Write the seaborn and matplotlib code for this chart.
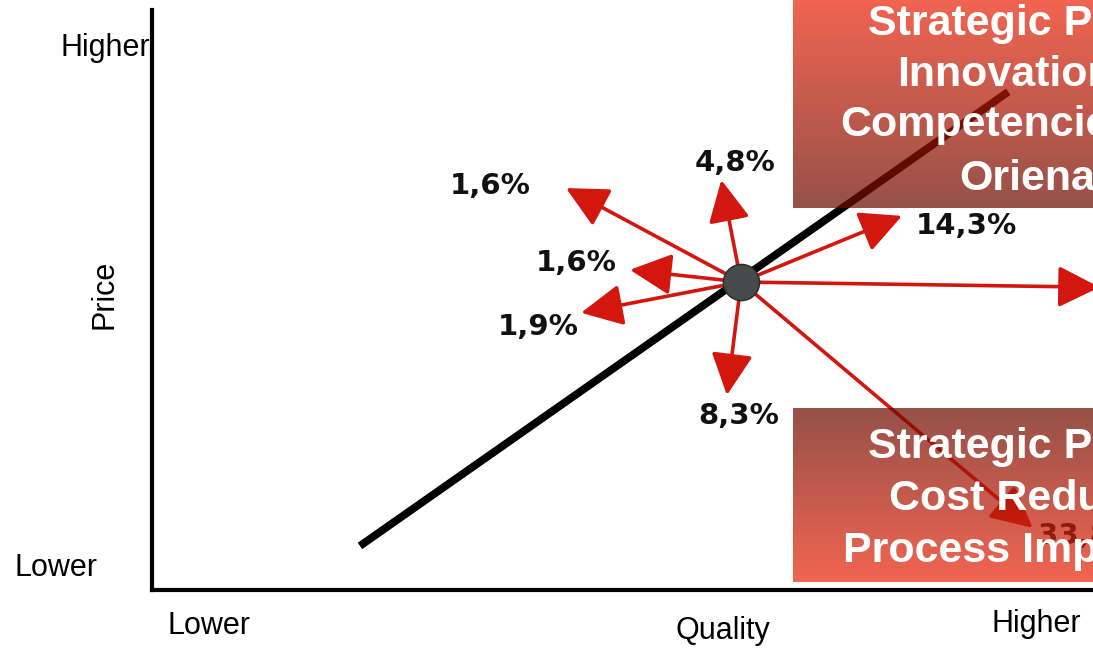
import numpy as np
import pandas as pd
import matplotlib
matplotlib.use("Agg")
import matplotlib.pyplot as plt
import matplotlib.colors as mcolors
import seaborn as sns

# --- data -----------------------------------------------------------------
# price/quality plane, both axes on a 0..100 scale
diag_quality = [22.1, 91.0]
diag_price = [7.6, 85.9]

center_quality = [62.6]
center_price = [53.1]

shift_labels = ["1,6%", "4,8%", "1,6%", "1,9%", "8,3%", "14,3%", "", "33,8%"]
tip_quality = [44.0, 60.5, 50.8, 45.6, 61.1, 79.7, 100.7, 93.6]
tip_price = [69.3, 70.7, 55.2, 47.8, 33.6, 64.5, 52.2, 10.7]
label_quality = [35.9, 62.0, 45.1, 41.0, 62.3, 86.5, 104.0, 99.5]
label_price = [69.7, 73.6, 56.4, 45.3, 30.0, 62.8, 52.0, 9.3]

axis_low, axis_high = "Lower", "Higher"
x_title, y_title = "Quality", "Price"

top_box_lines = ["Strategic Priority", "Innovation", "Competencies", "Orienation"]
bottom_box_lines = ["Strategic Priority", "Cost Reduction", "Process Improvement"]

# --- style ----------------------------------------------------------------
sns.set_theme(style="white")
plt.rcParams["font.family"] = ["Liberation Sans", "DejaVu Sans"]
plt.rcParams["text.color"] = "black"

RED = "#D3170F"
fig = plt.figure(figsize=(10.93, 6.49), dpi=100)
ax = fig.add_axes([152 / 1093, 59 / 649, 941 / 1093, 580 / 649])
ax.set_xlim(0, 100)
ax.set_ylim(0, 100)
ax.set_xticks([])
ax.set_yticks([])
for side in ("top", "right"):
    ax.spines[side].set_visible(False)
for side in ("left", "bottom"):
    ax.spines[side].set_color("black")
    ax.spines[side].set_linewidth(3)

# diagonal price/quality line
diag = pd.DataFrame({"quality": diag_quality, "price": diag_price})
sns.lineplot(data=diag, x="quality", y="price", ax=ax, color="black",
             linewidth=5.6, zorder=2, estimator=None, sort=False,
             solid_capstyle="butt")

# shift arrows from the current position
for tq, tp in zip(tip_quality, tip_price):
    ax.annotate("", xy=(tq, tp), xytext=(center_quality[0], center_price[0]),
                xycoords="data", textcoords="data", annotation_clip=False,
                arrowprops=dict(arrowstyle="-|>,head_length=0.8,head_width=0.4",
                                mutation_scale=32, lw=2.6, color=RED,
                                shrinkA=0, shrinkB=0),
                zorder=3)

for lab, lq, lp in zip(shift_labels, label_quality, label_price):
    if lab:
        ax.text(lq, lp, lab, ha="center", va="center", fontsize=21,
                fontweight="bold", family=["DejaVu Sans"], color="#111111",
                zorder=4, clip_on=False)

# current position marker
sns.scatterplot(x=center_quality, y=center_price, ax=ax, s=680,
                color="#474a4a", edgecolor="#2b2b2b", linewidth=1, zorder=5)

# translucent gradient boxes
ALPHA = 0.72
def tint(visible_hex):
    rgb = np.array(mcolors.to_rgb(visible_hex))
    return np.clip((rgb - (1 - ALPHA)) / ALPHA, 0, 1)

def gradient_box(x0, x1, y0, y1, top_hex, bottom_hex):
    t = np.linspace(0, 1, 256)[:, None]
    c_top, c_bot = tint(top_hex), tint(bottom_hex)
    rgb = c_top[None, :] * (1 - t) + c_bot[None, :] * t
    rgba = np.concatenate([rgb, np.full((256, 1), ALPHA)], axis=1)[:, None, :]
    im = ax.imshow(rgba, extent=[x0, x1, y0, y1], origin="upper",
                   aspect="auto", zorder=6, interpolation="bilinear")
    im.set_clip_on(False)

CORAL, BROWN = "#F26450", "#965040"
gradient_box(68.1, 110, 65.9, 102, CORAL, BROWN)
gradient_box(68.1, 110, 1.4, 31.4, BROWN, CORAL)

top_x = [76.1, 79.2, 73.1, 85.8]
top_y = [95.7, 86.9, 78.3, 69.0]
for txt, bx, by in zip(top_box_lines, top_x, top_y):
    ax.text(bx, by, txt, ha="left", va="baseline", fontsize=31,
            fontweight="bold", color="white", zorder=7, clip_on=False)

bot_x = [76.1, 78.3, 73.4]
bot_y = [22.8, 13.8, 4.8]
for txt, bx, by in zip(bottom_box_lines, bot_x, bot_y):
    ax.text(bx, by, txt, ha="left", va="baseline", fontsize=31,
            fontweight="bold", color="white", zorder=7, clip_on=False)

# axis wording
ax.text(6.1, -6.2, axis_low, ha="center", va="center", fontsize=22, clip_on=False)
ax.text(94.0, -5.9, axis_high, ha="center", va="center", fontsize=22, clip_on=False)
ax.text(60.7, -7.1, x_title, ha="center", va="center", fontsize=22, clip_on=False)
ax.text(-0.2, 93.4, axis_high, ha="right", va="center", fontsize=22, clip_on=False)
ax.text(-5.8, 3.8, axis_low, ha="right", va="center", fontsize=22, clip_on=False)
ax.text(-5.0, 50.9, y_title, ha="center", va="center", fontsize=22,
        rotation=90, clip_on=False)

fig.savefig("out.png", dpi=100)
